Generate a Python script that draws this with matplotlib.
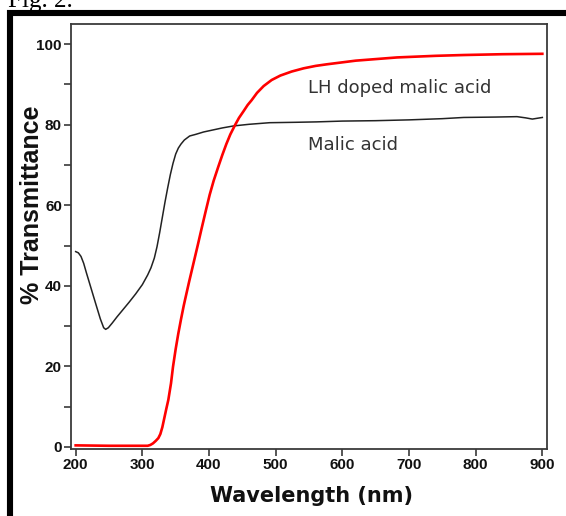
import matplotlib
matplotlib.use("Agg")
import matplotlib.pyplot as plt
from matplotlib import font_manager
from matplotlib.patches import Rectangle
from matplotlib.ticker import MultipleLocator

# ---- data ----
malic_wl = [200, 204, 208, 212, 216, 222, 230, 237, 242, 245, 249, 255, 262,
            270, 280, 290, 300, 308, 313, 318, 322, 326, 330, 334, 338, 342,
            346, 350, 354, 358, 363, 371, 380, 392, 406, 420, 437, 460, 491,
            530, 561, 600, 650, 700, 750, 782, 830, 862, 875, 885, 900]
malic_T = [48.5, 48.2, 47.3, 45.6, 43.3, 40.0, 35.6, 31.8, 29.6, 29.2, 29.6,
           30.8, 32.3, 33.9, 35.9, 38.0, 40.3, 42.7, 44.5, 46.9, 49.7, 53.2,
           57.0, 60.8, 64.3, 67.6, 70.4, 72.7, 74.2, 75.2, 76.2, 77.2, 77.6,
           78.2, 78.7, 79.2, 79.7, 80.1, 80.5, 80.6, 80.7, 80.9, 81.0, 81.2,
           81.5, 81.8, 81.9, 82.0, 81.7, 81.4, 81.8]

lh_wl = [200, 250, 300, 308, 312, 316, 320, 324, 327, 330, 333, 336, 339,
         343, 346, 350, 354, 358, 362, 364, 370, 377, 383, 389, 395, 401,
         407, 414, 420, 426, 432, 439, 445, 452, 458, 464, 472, 482, 494,
         507, 524, 542, 560, 577, 620, 682, 740, 782, 840, 900]
lh_T = [0.4, 0.3, 0.3, 0.3, 0.5, 0.9, 1.5, 2.2, 3.2, 4.9, 7.2, 9.5, 11.7,
        15.8, 19.9, 24.3, 28.2, 31.7, 35.0, 36.5, 40.9, 45.8, 50.0, 54.3,
        58.5, 62.6, 66.1, 69.6, 72.5, 75.2, 77.6, 79.9, 81.7, 83.4, 84.9,
        86.1, 87.9, 89.6, 91.1, 92.2, 93.2, 94.0, 94.6, 95.0, 95.9, 96.7,
        97.1, 97.3, 97.5, 97.6]

xticks = [200, 300, 400, 500, 600, 700, 800, 900]
yticks = [0, 20, 40, 60, 80, 100]
series_labels = ["LH doped malic acid", "Malic acid"]
xlabel = "Wavelength (nm)"
ylabel = "% Transmittance"
fig_caption = "Fig. 2."


def has_font(name):
    try:
        font_manager.findfont(font_manager.FontProperties(family=name),
                              fallback_to_default=False)
        return True
    except Exception:
        return False


narrow = "Liberation Sans Narrow" if has_font("Liberation Sans Narrow") else "Liberation Sans"

W, H = 566, 516
fig = plt.figure(figsize=(W / 100, H / 100), dpi=100)

# outer thick frame
fig.patches.append(Rectangle((10 / W, -0.2), 1.5, 1 - 13 / H + 0.2,
                             transform=fig.transFigure, fill=False,
                             edgecolor="black", linewidth=4.4))
fig.text(8 / W, 1 - 6.5 / H, fig_caption, family="Liberation Serif",
         fontsize=18, va="baseline", ha="left", color="black")

L, R, T, B = 71, 547, 24, 449
ax = fig.add_axes([L / W, 1 - B / H, (R - L) / W, (B - T) / H])

ax.plot(malic_wl, malic_T, color="#222222", lw=1.1, solid_joinstyle="round")
ax.plot(lh_wl, lh_T, color="#ff0000", lw=1.9, solid_joinstyle="round")

ax.set_xlim(193, 907)
ax.set_ylim(-0.5, 105)
ax.set_xticks(xticks)
ax.set_yticks(yticks)
ax.yaxis.set_minor_locator(MultipleLocator(10))

spine_c = "#3a3a3a"
for s in ax.spines.values():
    s.set_color(spine_c)
    s.set_linewidth(1.3)
ax.tick_params(axis="both", which="major", direction="out", length=5,
               width=1.2, color=spine_c, pad=1.5)
ax.tick_params(axis="y", which="minor", direction="out", length=5,
               width=1.2, color=spine_c)
for lab in ax.get_xticklabels() + ax.get_yticklabels():
    lab.set_family(narrow)
    lab.set_fontweight("bold")
    lab.set_fontsize(12 if narrow != "Liberation Sans" else 11)
    lab.set_color("#111111")

ax.set_xlabel(xlabel, family="DejaVu Sans", fontweight="bold", fontsize=15,
              color="#111111")
ax.xaxis.set_label_coords((312 - L) / (R - L), (B - 486) / (B - T))
ax.xaxis.label.set_va("top")
ax.set_ylabel(ylabel, family=narrow, fontweight="bold",
              fontsize=21 if narrow != "Liberation Sans" else 18,
              color="#111111")
ax.yaxis.set_label_coords((44 - L) / (R - L), 1 - (205 - T) / (B - T))

ax.text(548, 87.8, series_labels[0], family="DejaVu Sans", fontsize=13,
        color="#333333", ha="left", va="baseline")
ax.text(548, 73.7, series_labels[1], family="DejaVu Sans", fontsize=13,
        color="#333333", ha="left", va="baseline")

fig.savefig("out.png", dpi=100)
